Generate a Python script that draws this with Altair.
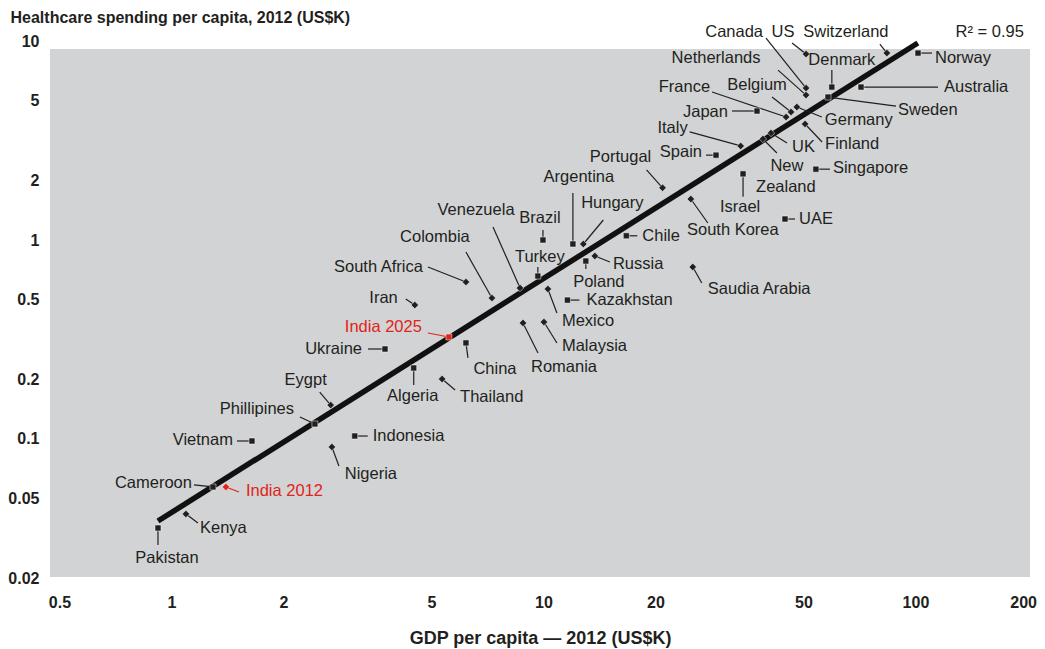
import altair as alt
import pandas as pd

# ---------------- data ----------------
countries = ["Canada", "US", "Switzerland", "Netherlands", "Denmark", "Norway", "Australia",
             "Sweden", "Germany", "Belgium", "France", "Japan", "Italy", "Spain", "UK",
             "New Zealand", "Finland", "Singapore", "Israel", "Portugal", "Argentina", "Hungary",
             "Brazil", "Chile", "Venezuela", "Colombia", "South Africa", "Iran", "India 2025",
             "Ukraine", "Turkey", "Poland", "Russia", "Mexico", "Kazakhstan", "Saudia Arabia",
             "South Korea", "UAE", "Romania", "Malaysia", "China", "Algeria", "Thailand", "Eygpt",
             "Phillipines", "Vietnam", "Indonesia", "Nigeria", "Cameroon", "India 2012", "Kenya",
             "Pakistan"]
gdp = [50.8, 50.8, 83.8, 50.8, 59.6, 101.6, 71.4, 58.2, 48.0, 46.3,
       44.9, 37.5, 33.9, 29.1, 40.9, 38.9, 50.5, 54.0, 34.4, 20.9,
       12.0, 12.8, 9.97, 16.7, 8.65, 7.27, 6.19, 4.51, 5.57, 3.75,
       9.66, 13.0, 13.75, 10.28, 11.6, 25.2, 24.9, 44.6, 8.81, 10.03,
       6.19, 4.48, 5.34, 2.68, 2.43, 1.646, 3.11, 2.70, 1.293, 1.401,
       1.094, 0.920]
health = [5.80, 8.60, 8.70, 5.35, 5.87, 8.70, 5.87, 5.23, 4.66, 4.40,
          4.15, 4.45, 2.97, 2.67, 3.45, 3.22, 3.83, 2.27, 2.15, 1.83,
          0.955, 0.955, 1.0, 1.05, 0.574, 0.511, 0.615, 0.471, 0.3255, 0.2833,
          0.659, 0.784, 0.831, 0.567, 0.499, 0.732, 1.607, 1.275, 0.383, 0.387,
          0.304, 0.2274, 0.2002, 0.148, 0.119, 0.0977, 0.1035, 0.0912, 0.0574, 0.0574,
          0.0420, 0.0357]
trend_gdp = [0.920, 101.5]
trend_health = [0.0387, 9.77]
r2_text = "R\u00b2 = 0.95"

x_ticks = [0.5, 1, 2, 5, 10, 20, 50, 100, 200]
y_ticks = [0.02, 0.05, 0.1, 0.2, 0.5, 1, 2, 5, 10]

# ---------------- annotation layout (pixel offsets from each point) ----------------
# label: (text, country, dx, dy, align)
label_layout = [
    ("Canada", "Canada", -43, -56, "right"),
    ("US", "US", -23, -22, "center"),
    ("Switzerland", "Switzerland", -41, -21, "center"),
    ("Netherlands", "Netherlands", -90, -37, "center"),
    ("Denmark", "Denmark", 10, -27, "center"),
    ("Norway", "Norway", 17, 5, "left"),
    ("Australia", "Australia", 83, 0, "left"),
    ("Sweden", "Sweden", 70, 13, "left"),
    ("Germany", "Germany", 28, 13, "left"),
    ("Belgium", "Belgium", -34, -27, "center"),
    ("France", "France", -76, -30, "right"),
    ("Japan", "Japan", -29, 1, "right"),
    ("Italy", "Italy", -53, -18, "right"),
    ("Spain", "Spain", -14, -3, "right"),
    ("UK", "UK", 21, 14, "left"),
    ("New", "New Zealand", 24, 27, "center"),
    ("Zealand", "New Zealand", 23, 48, "center"),
    ("Finland", "Finland", 20, 20, "left"),
    ("Singapore", "Singapore", 17, -1, "left"),
    ("Israel", "Israel", -3, 33, "center"),
    ("Portugal", "Portugal", -42, -31, "center"),
    ("Argentina", "Argentina", 6, -67, "center"),
    ("Hungary", "Hungary", 29, -41, "center"),
    ("Brazil", "Brazil", -3, -22, "center"),
    ("Chile", "Chile", 16, 0, "left"),
    ("Venezuela", "Venezuela", -44, -78, "center"),
    ("Colombia", "Colombia", -57, -61, "center"),
    ("South Africa", "South Africa", -43, -15, "right"),
    ("Iran", "Iran", -17, -7, "right"),
    ("India 2025", "India 2025", -27, -10, "right"),
    ("Ukraine", "Ukraine", -23, 0, "right"),
    ("Turkey", "Turkey", 2, -19, "center"),
    ("Poland", "Poland", 13, 21, "center"),
    ("Russia", "Russia", 18, 8, "left"),
    ("Mexico", "Mexico", 14, 32, "left"),
    ("Kazakhstan", "Kazakhstan", 19, 0, "left"),
    ("Saudia Arabia", "Saudia Arabia", 15, 22, "left"),
    ("South Korea", "South Korea", 42, 31, "center"),
    ("UAE", "UAE", 14, 0, "left"),
    ("Romania", "Romania", 41, 44, "center"),
    ("Malaysia", "Malaysia", 18, 24, "left"),
    ("China", "China", 29, 26, "center"),
    ("Algeria", "Algeria", -1, 28, "center"),
    ("Thailand", "Thailand", 18, 18, "left"),
    ("Eygpt", "Eygpt", -25, -25, "center"),
    ("Phillipines", "Phillipines", -58, -15, "center"),
    ("Vietnam", "Vietnam", -19, -1, "right"),
    ("Indonesia", "Indonesia", 18, 0, "left"),
    ("Nigeria", "Nigeria", 39, 27, "center"),
    ("Cameroon", "Cameroon", -21, -4, "right"),
    ("India 2012", "India 2012", 20, 4, "left"),
    ("Kenya", "Kenya", 14, 14, "left"),
    ("Pakistan", "Pakistan", 9, 30, "center"),
]
# leader line end offsets (dx, dy) from each point
leader_layout = {
    "Canada": (-40, -50), "US": (-14, -11), "Switzerland": (-7, -9), "Netherlands": (-28, -25),
    "Denmark": (0, -17), "Norway": (14, 0), "Australia": (77, 0), "Sweden": (68, 9),
    "Germany": (25, 10), "Belgium": (-19, -15), "France": (-74, -25), "Japan": (-25, 0),
    "Italy": (-51, -14), "Spain": (-10, 0), "UK": (16, 10), "New Zealand": (14, 14),
    "Finland": (17, 18), "Singapore": (14, 0), "Israel": (0, 23), "Portugal": (-16, -18),
    "Argentina": (0, -51), "Hungary": (20, -24), "Brazil": (0, -10), "Chile": (11, 0),
    "Venezuela": (-27, -61), "Colombia": (-26, -46), "South Africa": (-38, -15),
    "Iran": (-9, -6), "India 2025": (-21, -4), "Ukraine": (-17, 0), "Turkey": (0, -9),
    "Poland": (0, 8), "Russia": (15, 6), "Mexico": (9, 24), "Kazakhstan": (12, 0),
    "Saudia Arabia": (9, 16), "South Korea": (17, 24), "UAE": (10, 0), "Romania": (15, 30),
    "Malaysia": (13, 21), "China": (2, 15), "Algeria": (0, 17), "Thailand": (13, 11),
    "Eygpt": (-11, -13), "Phillipines": (-15, -7), "Vietnam": (-15, 0), "Indonesia": (13, 0),
    "Nigeria": (7, 19), "Cameroon": (-19, -2), "India 2012": (13, 5), "Kenya": (12, 9),
    "Pakistan": (0, 17),
}
diamonds = {"Canada", "US", "Switzerland", "Netherlands", "Germany", "Belgium", "France",
            "Italy", "UK", "New Zealand", "Finland", "Portugal", "Hungary", "Venezuela",
            "Colombia", "South Africa", "Iran", "Russia", "Mexico", "Saudia Arabia",
            "South Korea", "Romania", "Malaysia", "Thailand", "Eygpt", "Nigeria",
            "India 2012", "Kenya"}
highlight = {"India 2025", "India 2012"}

INK = "#231f20"
RED = "#e2231a"
PANEL = "#d1d3d4"
FONT = "Liberation Sans"

W, H = 980, 540
X_DOM = [0.47156, 203.2]
Y_DOM = [0.01956, 10.12]
XPD = 372.0   # pixels per decade, x
YPD = 199.0   # pixels per decade, y


def shift_x(v, px):
    return v * 10 ** (px / XPD)


def shift_y(v, px):
    return v * 10 ** (-px / YPD)


idx = {c: i for i, c in enumerate(countries)}

pts = pd.DataFrame({
    "country": countries,
    "x": gdp,
    "y": health,
    "shape": ["diamond" if c in diamonds else "square" for c in countries],
    "size": [56 if c in diamonds else 36 for c in countries],
    "col": [RED if c in highlight else INK for c in countries],
})

lead = pd.DataFrame({
    "country": countries,
    "x": gdp,
    "y": health,
    "x2": [shift_x(gdp[idx[c]], leader_layout[c][0]) for c in countries],
    "y2": [shift_y(health[idx[c]], leader_layout[c][1]) for c in countries],
    "col": [RED if c in highlight else INK for c in countries],
})

labs = pd.DataFrame({
    "text": [t for t, c, dx, dy, a in label_layout],
    "x": [shift_x(gdp[idx[c]], dx) for t, c, dx, dy, a in label_layout],
    "y": [shift_y(health[idx[c]], dy) for t, c, dx, dy, a in label_layout],
    "align": [a for t, c, dx, dy, a in label_layout],
    "col": [RED if c in highlight else INK for t, c, dx, dy, a in label_layout],
})

trend = pd.DataFrame({"x": trend_gdp, "y": trend_health})
r2 = pd.DataFrame({"x": [195.7], "y": [11.1], "text": [r2_text]})

xscale = alt.Scale(type="log", domain=X_DOM, nice=False)
yscale = alt.Scale(type="log", domain=Y_DOM, nice=False)
xaxis = alt.Axis(values=x_ticks, labelExpr="format(datum.value, '~g')",
                 title="GDP per capita \u2014 2012 (US$K)", titleY=58, titleBaseline="middle",
                 titleFontSize=18, labelPadding=14, labelFlush=5, labelFlushOffset=9,
                 labelOverlap=False)
yaxis = alt.Axis(values=y_ticks, labelExpr="format(datum.value, '~g')",
                 title="Healthcare spending per capita, 2012 (US$K)", titleAngle=0,
                 titleX=-40, titleY=-31, titleAlign="left", titleBaseline="top",
                 titleFontSize=16, labelPadding=11, labelFlush=False, labelOverlap=False)


def X(f="x"):
    return alt.X(f, type="quantitative", scale=xscale, axis=xaxis)


def Y(f="y"):
    return alt.Y(f, type="quantitative", scale=yscale, axis=yaxis)


panel = alt.Chart(pd.DataFrame({"a": [0]})).mark_rect(color=PANEL).encode(
    x=alt.value(0), x2=alt.value(W), y=alt.value(9), y2=alt.value(537))

trend_line = alt.Chart(trend).mark_line(color="#111111", strokeWidth=5.5, strokeCap="butt").encode(
    x=X(), y=Y())

leaders = alt.Chart(lead).mark_rule(strokeWidth=1.2).encode(
    x=X(), y=Y(), x2="x2:Q", y2="y2:Q", color=alt.Color("col:N", scale=None))

markers = alt.Chart(pts).mark_point(filled=True, opacity=1, stroke="white", strokeWidth=0.5).encode(
    x=X(), y=Y(),
    shape=alt.Shape("shape:N", scale=None),
    size=alt.Size("size:Q", scale=None),
    fill=alt.Fill("col:N", scale=None),
)

text_layers = []
for a in ["left", "center", "right"]:
    text_layers.append(
        alt.Chart(labs).transform_filter(alt.datum.align == a).mark_text(
            align=a, baseline="middle", font=FONT, fontSize=16.5).encode(
            x=X(), y=Y(), text="text:N", color=alt.Color("col:N", scale=None))
    )

r2_label = alt.Chart(r2).mark_text(align="right", baseline="middle", font=FONT,
                                   fontSize=16.5, color=INK).encode(
    x=X(), y=Y(), text="text:N")

chart = alt.layer(panel, trend_line, leaders, markers, *text_layers, r2_label).properties(
    width=W, height=H, autosize="none",
    padding={"left": 42, "top": 32, "right": 7, "bottom": 68},
).configure_view(stroke=None, fill=None).configure_axis(
    grid=False, domain=False, ticks=False, tickSize=0,
    labelFont=FONT, labelFontSize=16, labelFontWeight="bold", labelColor=INK,
    titleFont=FONT, titleFontWeight="bold", titleColor=INK,
)

chart.save("out.html", embed_options={"renderer": "svg", "actions": False})
